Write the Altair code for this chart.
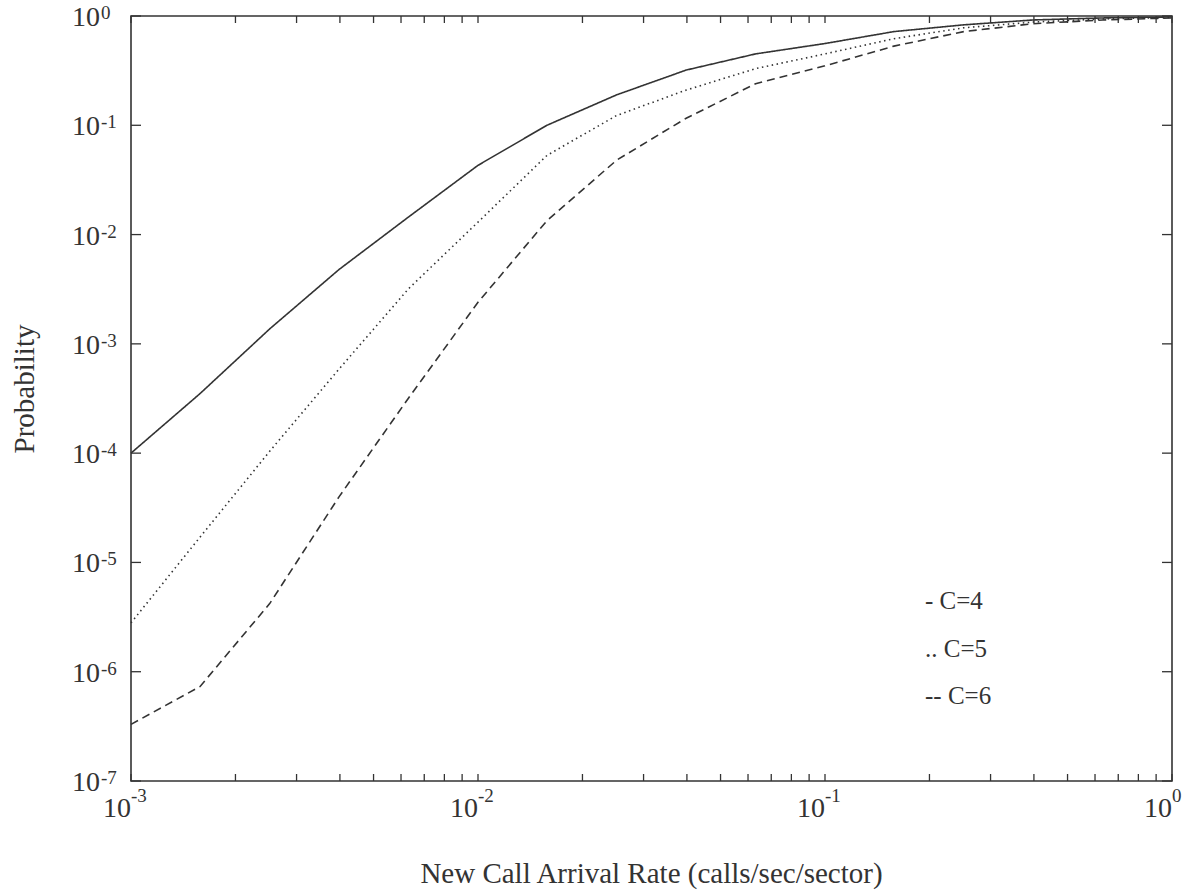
import altair as alt
import pandas as pd

# ---- data ----
rate = [0.001, 0.00158, 0.00251, 0.00398, 0.00631, 0.01, 0.0158, 0.0251,
        0.0398, 0.0631, 0.1, 0.158, 0.251, 0.398, 0.631, 1.0]
p_c4 = [1.0e-4, 3.5e-4, 1.37e-3, 4.8e-3, 0.0145, 0.043, 0.10, 0.19,
        0.32, 0.45, 0.56, 0.72, 0.83, 0.92, 0.96, 0.98]
p_c5 = [2.8e-6, 1.7e-5, 1.04e-4, 5.9e-4, 3.2e-3, 0.013, 0.053, 0.123,
        0.21, 0.33, 0.45, 0.62, 0.78, 0.88, 0.94, 0.97]
p_c6 = [3.3e-7, 7.3e-7, 4.2e-6, 4.0e-5, 3.2e-4, 2.4e-3, 0.0134, 0.048,
        0.116, 0.24, 0.35, 0.53, 0.72, 0.85, 0.92, 0.96]
series_names = ["C=4", "C=5", "C=6"]
legend_labels = ["- C=4", ".. C=5", "-- C=6"]

x_decades = [-3, -2, -1, 0]
y_decades = [0, -1, -2, -3, -4, -5, -6, -7]
minor_mult = [1, 2, 3, 4, 5, 6, 7, 8, 9]

x_title = "New Call Arrival Rate (calls/sec/sector)"
y_title = "Probability"

# ---- tables ----
rows = []
for name, vals in zip(series_names, [p_c4, p_c5, p_c6]):
    for r, p in zip(rate, vals):
        rows.append({"rate": r, "p": p, "series": name})
lines_df = pd.DataFrame(rows)

xt = [m * 10.0 ** e for e in x_decades[:-1] for m in minor_mult] + [1.0]
xtick_df = pd.DataFrame({"v": xt})
ytick_df = pd.DataFrame({"v": [10.0 ** e for e in y_decades]})
xlab_df = pd.DataFrame({"v": [10.0 ** e for e in x_decades],
                        "base": ["10"] * len(x_decades),
                        "exp": [str(e) for e in x_decades]})
ylab_df = pd.DataFrame({"v": [10.0 ** e for e in y_decades],
                        "base": ["10"] * len(y_decades),
                        "exp": [str(e) for e in y_decades]})

W, H = 1041, 765
INK = "#333333"
FONT = "Liberation Serif"

xs = alt.Scale(type="log", domain=[0.001, 1.0], nice=False)
ys = alt.Scale(type="log", domain=[1e-7, 1.0], nice=False)

lines = alt.Chart(lines_df).mark_line(color=INK, strokeWidth=1.6).encode(
    x=alt.X("rate:Q", scale=xs, axis=None),
    y=alt.Y("p:Q", scale=ys, axis=None),
    strokeDash=alt.StrokeDash("series:N", legend=None,
                              scale=alt.Scale(domain=series_names,
                                              range=[[1, 0], [1.5, 3.5], [8, 5]])),
    detail="series:N",
)

xt_bottom = alt.Chart(xtick_df).mark_rule(color=INK, strokeWidth=1.3).encode(
    x=alt.X("v:Q", scale=xs), y=alt.value(H), y2=alt.value(H - 7))
xt_top = alt.Chart(xtick_df).mark_rule(color=INK, strokeWidth=1.3).encode(
    x=alt.X("v:Q", scale=xs), y=alt.value(0), y2=alt.value(7))
yt_left = alt.Chart(ytick_df).mark_rule(color=INK, strokeWidth=1.3).encode(
    y=alt.Y("v:Q", scale=ys), x=alt.value(0), x2=alt.value(10))
yt_right = alt.Chart(ytick_df).mark_rule(color=INK, strokeWidth=1.3).encode(
    y=alt.Y("v:Q", scale=ys), x=alt.value(W), x2=alt.value(W - 10))

xl_base = alt.Chart(xlab_df).mark_text(font=FONT, fontSize=28, color=INK,
                                       align="right", baseline="alphabetic").encode(
    x=alt.X("v:Q", scale=xs), y=alt.value(H + 36), text="base:N")
xl_exp = alt.Chart(xlab_df).mark_text(font=FONT, fontSize=19, color=INK,
                                      align="left", baseline="alphabetic").encode(
    x=alt.X("v:Q", scale=xs), y=alt.value(H + 21), text="exp:N")
yl_base = alt.Chart(ylab_df).mark_text(font=FONT, fontSize=28, color=INK,
                                       align="right", baseline="alphabetic", dy=10).encode(
    y=alt.Y("v:Q", scale=ys), x=alt.value(-31), text="base:N")
yl_exp = alt.Chart(ylab_df).mark_text(font=FONT, fontSize=19, color=INK,
                                      align="left", baseline="alphabetic", dy=3).encode(
    y=alt.Y("v:Q", scale=ys), x=alt.value(-30), text="exp:N")

xtitle = alt.Chart(pd.DataFrame({"t": [x_title]})).mark_text(
    font=FONT, fontSize=29, color=INK, align="center", baseline="alphabetic").encode(
    x=alt.value(W / 2), y=alt.value(H + 102), text="t:N")
ytitle = alt.Chart(pd.DataFrame({"t": [y_title]})).mark_text(
    font=FONT, fontSize=29, color=INK, align="center", baseline="middle", angle=270).encode(
    x=alt.value(-106), y=alt.value(373), text="t:N")

legend_layers = []
for i, lab in enumerate(legend_labels):
    legend_layers.append(
        alt.Chart(pd.DataFrame({"t": [lab]})).mark_text(
            font=FONT, fontSize=25, color=INK, align="left", baseline="alphabetic").encode(
            x=alt.value(794), y=alt.value(593 + 47.5 * i), text="t:N"))

chart = alt.layer(
    lines, xt_bottom, xt_top, yt_left, yt_right,
    xl_base, xl_exp, yl_base, yl_exp, xtitle, ytitle, *legend_layers
).properties(
    width=W, height=H,
    autosize=alt.AutoSizeParams(type="none"),
    padding={"left": 131, "top": 16, "right": 26, "bottom": 110},
    background="white",
).configure_view(stroke=INK, strokeWidth=1.6)

chart.save("out.html", embed_options={"renderer": "svg", "actions": False})
